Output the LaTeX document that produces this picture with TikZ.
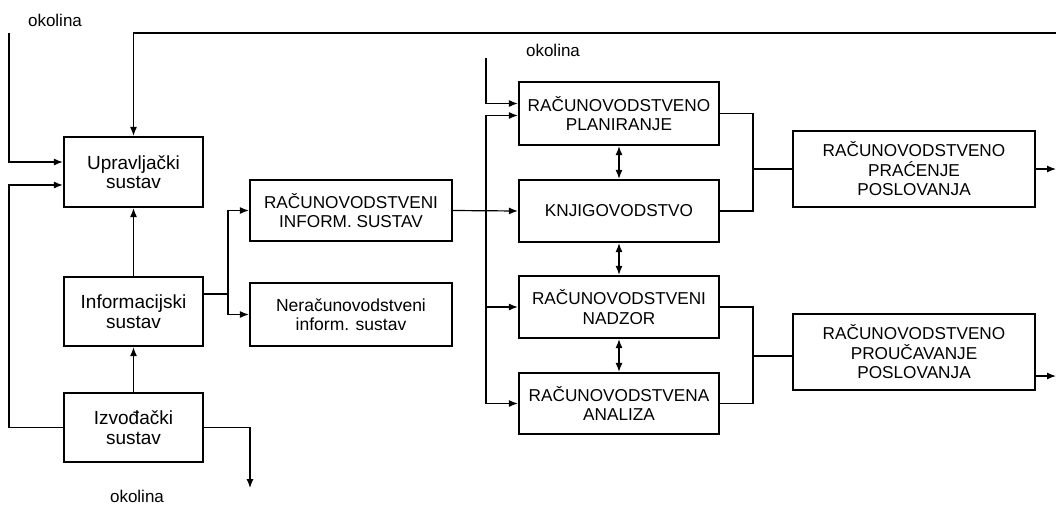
\documentclass[tikz,border=0pt]{standalone}
\usepackage{fontspec}
\setmainfont{Liberation Sans}
\usetikzlibrary{arrows.meta}

\begin{document}
\begin{tikzpicture}[x=1pt, y=-1pt,
    box/.style={draw, line width=2.2pt, rectangle, inner sep=0pt, align=center,
                font=\fontsize{17.2}{19.5}\selectfont},
    lbox/.style={box, font=\fontsize{19}{19.5}\selectfont},
    conn/.style={line width=1.2pt},
    arr/.style={conn, -{Latex[length=9pt,width=7pt]}},
    dbl/.style={conn, {Latex[length=9pt,width=7pt]}-{Latex[length=9pt,width=7pt]}},
    lab/.style={font=\fontsize{17}{19}\selectfont}]
    \useasboundingbox (0,0) rectangle (1056,504);
    % left column
    \node[lbox, minimum width=139pt, minimum height=70pt] (upr) at (133.5,172) {Upravljački\\sustav};
    \node[lbox, minimum width=139pt, minimum height=69pt] (inf) at (133.5,311.5) {Informacijski\\sustav};
    \node[lbox, minimum width=139pt, minimum height=69pt] (izv) at (133.5,427.5) {Izvođački\\sustav};
    % information systems
    \node[box, minimum width=202pt, minimum height=61pt] (ris) at (351,210.5) {RAČUNOVODSTVENI\\INFORM. SUSTAV};
    \node[box, font=\fontsize{17.5}{19.5}\selectfont, minimum width=202pt, minimum height=63pt] (nris) at (351,314.5) {Neračunovodstveni\\inform. sustav};
    % accounting functions
    \node[box, minimum width=200pt, minimum height=63pt] (plan) at (619,113.5) {RAČUNOVODSTVENO\\PLANIRANJE};
    \node[box, minimum width=200pt, minimum height=62pt] (knj) at (619,211) {KNJIGOVODSTVO};
    \node[box, minimum width=200pt, minimum height=62pt] (nadz) at (619,307) {RAČUNOVODSTVENI\\NADZOR};
    \node[box, minimum width=200pt, minimum height=61pt] (anal) at (619,403.5) {RAČUNOVODSTVENA\\ANALIZA};
    \node[box, minimum width=242pt, minimum height=76pt] (prac) at (914,169) {RAČUNOVODSTVENO\\PRAĆENJE\\POSLOVANJA};
    \node[box, minimum width=242pt, minimum height=76pt] (prou) at (914,352) {RAČUNOVODSTVENO\\PROUČAVANJE\\POSLOVANJA};
    % okolina labels
    \node[lab] (ok1) at (55,20) {okolina};
    \node[lab] (ok2) at (553,50) {okolina};
    \node[lab] (ok3) at (137,496) {okolina};
    \coordinate (okin1) at (9,33);
    \coordinate (okin2) at (486,58);
    \coordinate (okout) at (250,488);
    \coordinate (fbin) at (1056,33);
    \coordinate (split) at (228,294);
    \coordinate (busA) at (486,211);
    \coordinate (j1) at (753,169);
    \coordinate (j2) at (753,356);
    \coordinate (out1) at (1056,169);
    \coordinate (out2) at (1056,376);
    % connectors on the left
    \draw[arr] (okin1) |- ([yshift=10pt]upr.west);
    \draw[arr] (izv.west) -- ++(-54,0) |- ([yshift=-13pt]upr.west);
    \draw[arr] (fbin) -| (upr.north);
    \draw[arr] (inf.north) -- (upr.south);
    \draw[arr] (izv.north) -- (inf.south);
    \draw[arr] (izv.east) -| (okout);
    \draw[conn] ([yshift=17.5pt]inf.east) -- (split);
    \draw[arr] (split) |- (ris.west);
    \draw[arr] (split) |- (nris.west);
    % bus to the accounting functions
    \draw[arr] (ris.east) -- (knj.west);
    \draw[arr] (busA) |- ([yshift=-2pt]plan.west);
    \draw[arr] (busA) |- (nadz.west);
    \draw[arr] (busA) |- (anal.west);
    \draw[arr] (okin2) |- ([yshift=10pt]plan.west);
    \draw[dbl] (plan.south) -- (knj.north);
    \draw[dbl] (knj.south) -- (nadz.north);
    \draw[dbl] (nadz.south) -- (anal.north);
    % joins on the right
    \draw[conn] (plan.east) -| (j1);
    \draw[conn] (knj.east) -| (j1);
    \draw[conn] (j1) -- (prac.west);
    \draw[conn] (nadz.east) -| (j2);
    \draw[conn] (anal.east) -| (j2);
    \draw[conn] (j2) -- (prou.west |- j2);
    \draw[arr] (prac.east) -- (out1);
    \draw[arr] (out2 -| prou.east) -- (out2);
\end{tikzpicture}
\end{document}
